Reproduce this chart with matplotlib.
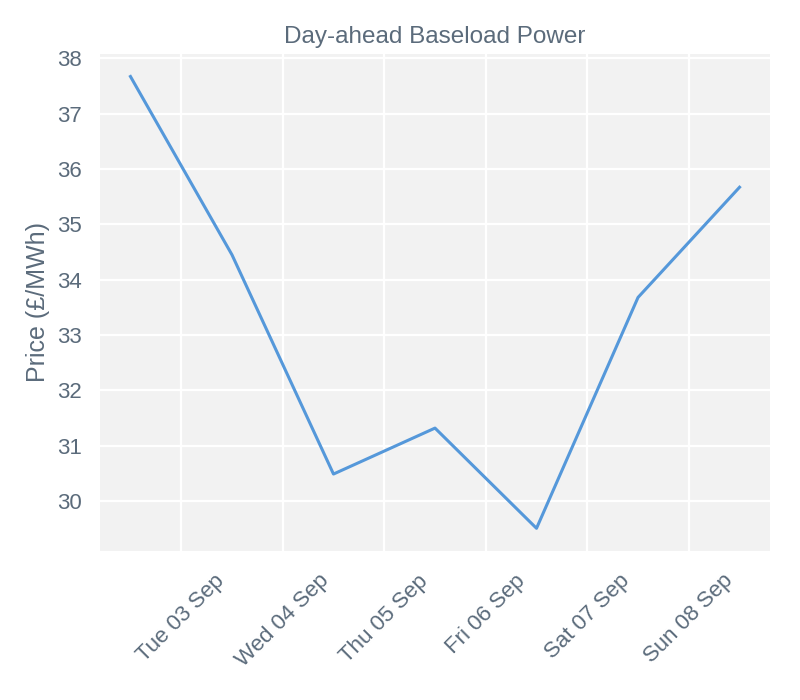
import numpy as np
import pandas as pd
import matplotlib
matplotlib.use("Agg")
import matplotlib.pyplot as plt
import matplotlib.dates as mdates

# daily day-ahead baseload prices, plotted at midday
dates = pd.date_range("2019-09-02 12:00", periods=7, freq="D")
prices = [37.67, 34.45, 30.49, 31.32, 29.51, 33.68, 35.67]

text_color = "#5b6b7b"
plt.rcParams["font.family"] = ["Liberation Sans", "DejaVu Sans"]

fig, ax = plt.subplots(figsize=(8, 7), dpi=100)
fig.subplots_adjust(left=0.125, right=0.9625, top=0.923, bottom=0.213)

ax.set_facecolor("#f2f2f2")
ax.grid(True, color="white", linewidth=1.6)
ax.set_axisbelow(True)
for s in ax.spines.values():
    s.set_visible(False)

ax.plot(dates, prices, color="#5598da", linewidth=2.2)

ax.xaxis.set_major_locator(mdates.DayLocator())
ax.xaxis.set_major_formatter(mdates.DateFormatter("%a %d %b"))
ax.tick_params(axis="both", length=0, labelsize=16, colors=text_color)
ax.tick_params(axis="y", pad=13)
ax.tick_params(axis="x", pad=14)
plt.setp(ax.get_xticklabels(), rotation=45)

ax.set_ylabel("Price (£/MWh)", fontsize=18, color=text_color, labelpad=5)
ax.set_title("Day-ahead Baseload Power", fontsize=17.5, color=text_color, pad=8)

fig.savefig("out.png")
